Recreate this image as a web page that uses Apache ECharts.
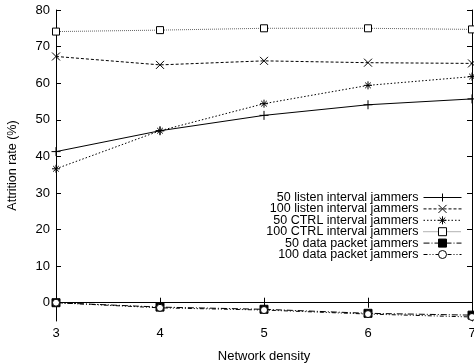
<!DOCTYPE html>
<html><head><meta charset="utf-8">
<script src="https://cdn.jsdelivr.net/npm/echarts@6/dist/echarts.min.js"></script>
<style>html,body{margin:0;padding:0;background:#fff}#c{width:474px;height:364px}</style>
</head><body><div id="c"></div>
<script>
var categories = ['3', '4', '5', '6', '7'];
var yTicks = [0, 10, 20, 30, 40, 50, 60, 70, 80];
var names = ['50 listen interval jammers', '100 listen interval jammers', '50 CTRL interval jammers',
  '100 CTRL interval jammers', '50 data packet jammers', '100 data packet jammers'];
var listen50 = [41.3, 47.0, 51.2, 54.1, 55.7];
var listen100 = [67.3, 65.0, 66.1, 65.6, 65.4];
var ctrl50 = [36.6, 47.0, 54.4, 59.4, 61.8];
var ctrl100 = [74.1, 74.5, 75.0, 75.0, 74.7];
var data50 = [0.0, -1.2, -1.8, -2.9, -3.4];
var data100 = [0.0, -1.4, -2.0, -3.1, -3.9];

var FONT = 'Liberation Sans, Arial, sans-serif';
var PLUS = 'path://M0,5H10M5,0V10';
var CROSS = 'path://M0,0L10,10M0,10L10,0';
var STAR = 'path://M0,5H10M5,0V10M1.5,1.5L8.5,8.5M1.5,8.5L8.5,1.5';

function mk(name, data, symbol, size, dash, lineColor, fill) {
  return {
    name: name, type: 'line', data: data, symbol: symbol, symbolSize: size,
    xAxisIndex: 0, yAxisIndex: 0,
    lineStyle: {color: lineColor, width: 1, type: dash},
    itemStyle: {color: fill, borderColor: '#000', borderWidth: 1},
    emphasis: {disabled: true}, clip: false
  };
}

var chart = echarts.init(document.getElementById('c'));
chart.setOption({
  animation: false,
  backgroundColor: '#fff',
  grid: {left: 56, right: 2, top: 10, bottom: 43, containLabel: false, outerBoundsMode: 'none'},
  legend: {
    orient: 'vertical', align: 'right', right: 7, top: 186,
    itemWidth: 38, itemHeight: 10, itemGap: -1.6,
    lineStyle: {width: 1},
    itemStyle: {borderWidth: 1},
    textStyle: {fontFamily: FONT, fontSize: 12.5, color: '#000', lineHeight: 12},
    data: names
  },
  xAxis: [{
    type: 'category', data: categories, boundaryGap: false,
    name: 'Network density', nameLocation: 'middle', nameGap: 29,
    nameTextStyle: {fontFamily: FONT, fontSize: 13, color: '#000'},
    axisLine: {lineStyle: {color: '#000', width: 1}},
    axisTick: {inside: true, length: 5, lineStyle: {color: '#000'}},
    axisLabel: {fontFamily: FONT, fontSize: 13, color: '#000', margin: 6},
    splitLine: {show: false}
  }, {
    type: 'category', data: categories, boundaryGap: false, position: 'top',
    axisLine: {lineStyle: {color: '#000', width: 1}},
    axisTick: {inside: true, length: 5, lineStyle: {color: '#000'}},
    axisLabel: {show: false}, splitLine: {show: false}
  }],
  yAxis: [{
    type: 'value', min: -5, max: 80,
    name: 'Attrition rate (%)', nameLocation: 'middle', nameGap: 37,
    nameTextStyle: {fontFamily: FONT, fontSize: 12.5, color: '#000'},
    axisLine: {show: true, lineStyle: {color: '#000', width: 1}},
    axisTick: {show: true, inside: true, length: 5, customValues: yTicks, lineStyle: {color: '#000'}},
    axisLabel: {fontFamily: FONT, fontSize: 13, color: '#000', margin: 6, customValues: yTicks},
    splitLine: {show: false}
  }, {
    type: 'value', min: -5, max: 80, position: 'right',
    axisLine: {show: true, lineStyle: {color: '#000', width: 1}},
    axisTick: {show: true, inside: true, length: 5, customValues: yTicks, lineStyle: {color: '#000'}},
    axisLabel: {show: false}, splitLine: {show: false}
  }],
  series: [
    mk(names[0], listen50, PLUS, 9, 'solid', '#000', 'rgba(0,0,0,0)'),
    mk(names[1], listen100, CROSS, 8, [3, 2], '#000', 'rgba(0,0,0,0)'),
    mk(names[2], ctrl50, STAR, 8, [1.5, 2], '#000', 'rgba(0,0,0,0)'),
    mk(names[3], ctrl100, 'rect', 7, [1, 1], '#666', '#fff'),
    mk(names[4], data50, 'rect', 8, [6, 2, 1, 2], '#000', '#000'),
    mk(names[5], data100, 'circle', 7, [4, 2, 1, 2, 1, 2], '#000', '#fff')
  ]
});
</script></body></html>
